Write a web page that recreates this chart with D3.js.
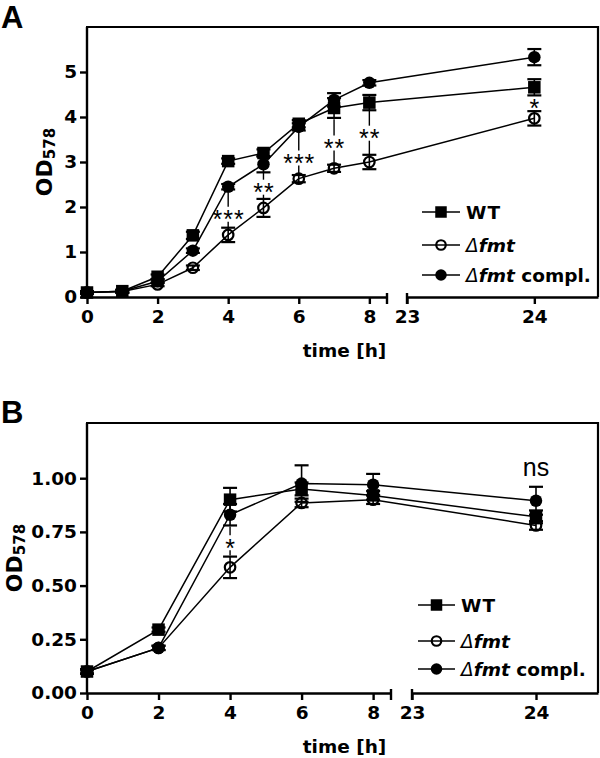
<!DOCTYPE html>
<html>
<head>
<meta charset="utf-8">
<script src="https://cdn.jsdelivr.net/npm/d3@7/dist/d3.min.js"></script>
<style>
  html, body { margin: 0; padding: 0; background: #fff; }
  svg { display: block; }
</style>
</head>
<body>
<svg id="chart" width="600" height="758"></svg>
<script>
// ---------------- Data ----------------
// Panel A
const timesA = [0, 1, 2, 3, 4, 5, 6, 7, 8, 24];
const wtA      = [0.10, 0.13, 0.45, 1.37, 3.02, 3.20, 3.85, 4.20, 4.32, 4.66];
const wtErrA   = [0.03, 0.03, 0.05, 0.08, 0.06, 0.08, 0.08, 0.22, 0.17, 0.18];
const fmtA     = [0.10, 0.12, 0.28, 0.65, 1.38, 1.98, 2.63, 2.86, 3.00, 3.97];
const fmtErrA  = [0.02, 0.03, 0.04, 0.05, 0.16, 0.20, 0.08, 0.08, 0.16, 0.16];
const complA   = [0.10, 0.13, 0.35, 1.03, 2.45, 2.95, 3.78, 4.38, 4.76, 5.33];
const complErrA= [0.02, 0.03, 0.04, 0.05, 0.06, 0.18, 0.08, 0.15, 0.06, 0.18];
const yTicksA  = [0, 1, 2, 3, 4, 5];
const sigXA     = [4, 5, 6, 7, 8, 24];
const sigTopA   = [2.31, 2.77, 3.72, 3.95, 4.15, 4.48];
const sigBotA   = [1.54, 2.18, 2.72, 3.00, 3.16, 4.13];
const sigLabYA  = [1.84, 2.44, 3.09, 3.42, 3.64, 4.31];
const sigLabA   = ["***", "**", "***", "**", "**", "*"];

// Panel B
const timesB = [0, 2, 4, 6, 8, 24];
const wtB      = [0.10, 0.295, 0.90, 0.95, 0.92, 0.82];
const wtErrB   = [0.01, 0.01, 0.055, 0.03, 0.02, 0.03];
const fmtB     = [0.10, 0.21, 0.585, 0.885, 0.90, 0.78];
const fmtErrB  = [0.01, 0.01, 0.05, 0.02, 0.02, 0.02];
const complB   = [0.10, 0.21, 0.83, 0.975, 0.97, 0.895];
const complErrB= [0.01, 0.01, 0.05, 0.085, 0.05, 0.065];
const yTicksB  = [0, 0.25, 0.5, 0.75, 1.0];
const sigXB     = [4, 24];
const sigTopB   = [0.775, null];
const sigBotB   = [0.64, null];
const sigLabYB  = [0.70, 1.04];
const sigLabB   = ["*", "ns"];

const xTicksLeft  = [0, 2, 4, 6, 8];
const xTicksRight = [23, 24];
const seriesNames = ["WT", "fmt", "compl"];

// ---------------- Drawing ----------------
const svg = d3.select("#chart");
const BOLD = "'DejaVu Sans', sans-serif";

function drawPanel(cfg) {
  const g = svg.append("g");
  const xl = d3.scaleLinear().domain([0, 8.5]).range([cfg.left, cfg.breakL]);
  const xr = d3.scaleLinear().domain([23, 24.5]).range([cfg.breakR, cfg.right]);
  const xp = t => (t <= 8.5 ? xl(t) : xr(t));
  const y = d3.scaleLinear().domain(cfg.yDomain).range([cfg.bottom, cfg.top]);

  // frame (top + right)
  g.append("path")
    .attr("d", `M${cfg.left - 1},${cfg.top}H${cfg.right}V${cfg.bottom}`)
    .attr("fill", "none").attr("stroke", "#000").attr("stroke-width", 2.2);

  // y axis
  const yAxis = d3.axisLeft(y).tickValues(cfg.yTicks).tickSize(7).tickSizeOuter(0)
    .tickFormat(cfg.yFormat).tickPadding(3);
  const ya = g.append("g").attr("transform", `translate(${cfg.left},0)`).call(yAxis);
  ya.select(".domain").attr("d", `M0,${cfg.bottom + 1}V${cfg.top}`);

  // x axes (two segments)
  const fmtX = d3.format("d");
  const xa1 = g.append("g").attr("transform", `translate(0,${cfg.bottom})`)
    .call(d3.axisBottom(xl).tickValues(xTicksLeft).tickFormat(fmtX).tickSize(7).tickSizeOuter(0).tickPadding(6));
  const xa2 = g.append("g").attr("transform", `translate(0,${cfg.bottom})`)
    .call(d3.axisBottom(xr).tickValues(xTicksRight).tickFormat(fmtX).tickSize(7).tickSizeOuter(0).tickPadding(6));
  [ya, xa1, xa2].forEach(a => {
    a.selectAll("path, line").attr("stroke", "#000").attr("stroke-width", 2.4);
    a.selectAll("text").attr("fill", "#000").style("font-family", BOLD)
      .style("font-weight", "bold").style("font-size", "18.5px");
  });
  // break end marks
  [cfg.breakL, cfg.breakR].forEach(bx => {
    g.append("line").attr("x1", bx).attr("x2", bx)
      .attr("y1", cfg.bottom - 4).attr("y2", cfg.bottom + 7)
      .attr("stroke", "#000").attr("stroke-width", 2.4);
  });

  // axis titles
  g.append("text").attr("x", (cfg.left + cfg.right) / 2 + 2).attr("y", cfg.bottom + 60)
    .attr("text-anchor", "middle").style("font-family", BOLD).style("font-weight", "bold")
    .style("font-size", "18.5px").text("time [h]");
  const yl = g.append("text")
    .attr("transform", `translate(${cfg.yLabelX},${(cfg.top + cfg.bottom) / 2}) rotate(-90)`)
    .attr("text-anchor", "middle").style("font-family", BOLD).style("font-weight", "bold")
    .style("font-size", "22px");
  yl.append("tspan").text("OD");
  yl.append("tspan").attr("dy", 3).style("font-size", "15px").text("578");

  // panel letter
  g.append("text").attr("x", 1).attr("y", cfg.letterY)
    .style("font-family", "'Liberation Sans', Arial, sans-serif").style("font-weight", "bold")
    .style("font-size", "31px").text(cfg.letter);

  const series = [
    { vals: cfg.wt, err: cfg.wtErr, shape: "square" },
    { vals: cfg.fmt, err: cfg.fmtErr, shape: "open" },
    { vals: cfg.compl, err: cfg.complErr, shape: "filled" }
  ];

  // lines
  const line = d3.line().x(d => xp(d[0])).y(d => y(d[1]));
  series.forEach(s => {
    const pts = cfg.times.map((t, i) => [t, s.vals[i]]);
    g.append("path").datum(pts).attr("d", line).attr("fill", "none")
      .attr("stroke", "#000").attr("stroke-width", 1.5);
  });

  // error bars
  series.forEach(s => {
    cfg.times.forEach((t, i) => {
      const cx = xp(t), lo = y(s.vals[i] - s.err[i]), hi = y(s.vals[i] + s.err[i]);
      g.append("line").attr("x1", cx).attr("x2", cx).attr("y1", lo).attr("y2", hi)
        .attr("stroke", "#000").attr("stroke-width", 1.6);
      [lo, hi].forEach(yy => g.append("line").attr("x1", cx - 7).attr("x2", cx + 7)
        .attr("y1", yy).attr("y2", yy).attr("stroke", "#000").attr("stroke-width", 2.2));
    });
  });

  // markers
  function marker(sel, shape, cx, cy, sz) {
    if (shape === "square") {
      sel.append("rect").attr("x", cx - sz / 2).attr("y", cy - sz / 2)
        .attr("width", sz).attr("height", sz).attr("fill", "#000");
    } else if (shape === "open") {
      sel.append("circle").attr("cx", cx).attr("cy", cy).attr("r", sz / 2 - 1)
        .attr("fill", "none").attr("stroke", "#000").attr("stroke-width", 2.2);
    } else {
      sel.append("circle").attr("cx", cx).attr("cy", cy).attr("r", sz / 2)
        .attr("fill", "#000");
    }
  }
  series.forEach(s => {
    cfg.times.forEach((t, i) => marker(g, s.shape, xp(t), y(s.vals[i]), 12.5));
  });

  // significance annotations
  cfg.sigX.forEach((t, i) => {
    const cx = xp(t);
    const lab = cfg.sigLab[i];
    const isStar = lab.indexOf("*") >= 0;
    const ly = y(cfg.sigLabY[i]);
    if (cfg.sigTop[i] != null) {
      const gap = 7.5;
      const top = y(cfg.sigTop[i]), bot = y(cfg.sigBot[i]);
      if (ly - gap > top) g.append("line").attr("x1", cx).attr("x2", cx)
        .attr("y1", top).attr("y2", ly - gap).attr("stroke", "#000").attr("stroke-width", 1.4);
      if (ly + gap < bot) g.append("line").attr("x1", cx).attr("x2", cx)
        .attr("y1", ly + gap).attr("y2", bot).attr("stroke", "#000").attr("stroke-width", 1.4);
    }
    const fs = isStar ? 25 : 25;
    g.append("text").attr("x", cx + (isStar ? 0.5 : 0))
      .attr("y", isStar ? ly + 0.57 * fs : ly + 0.27 * fs)
      .attr("text-anchor", "middle")
      .style("font-family", "'Liberation Sans', Arial, sans-serif")
      .style("font-size", fs + "px")
      .style("letter-spacing", isStar ? "1px" : "0px")
      .text(lab);
  });

  // legend
  const shapes = ["square", "open", "filled"];
  shapes.forEach((sh, i) => {
    const ry = cfg.legendY[i];
    g.append("line").attr("x1", cfg.legX0).attr("x2", cfg.legX1).attr("y1", ry).attr("y2", ry)
      .attr("stroke", "#000").attr("stroke-width", 1.5);
    marker(g, sh, (cfg.legX0 + cfg.legX1) / 2, ry, 11.5);
    const tx = g.append("text").attr("x", cfg.legX1 + 6).attr("y", ry + 6.5)
      .style("font-family", BOLD).style("font-size", "18.5px");
    if (seriesNames[i] === "WT") {
      tx.append("tspan").style("font-weight", "bold").style("letter-spacing", "1px").text("WT");
    } else {
      tx.append("tspan").style("font-style", "italic").style("font-weight", "normal").text("\u0394");
      tx.append("tspan").style("font-style", "italic").style("font-weight", "bold").text("fmt");
      if (seriesNames[i] === "compl")
        tx.append("tspan").style("font-weight", "bold").text(" compl.");
    }
  });
}

drawPanel({
  letter: "A", letterY: 28, yLabelX: 52,
  left: 87, breakL: 387, breakR: 407, right: 598, top: 27, bottom: 297,
  yDomain: [0, 6], yTicks: yTicksA, yFormat: d3.format("d"),
  times: timesA, wt: wtA, wtErr: wtErrA, fmt: fmtA, fmtErr: fmtErrA, compl: complA, complErr: complErrA,
  sigX: sigXA, sigTop: sigTopA, sigBot: sigBotA, sigLabY: sigLabYA, sigLab: sigLabA,
  legX0: 422, legX1: 460, legendY: [212, 245, 275]
});

drawPanel({
  letter: "B", letterY: 423, yLabelX: 22,
  left: 87, breakL: 391, breakR: 412, right: 598, top: 423, bottom: 693,
  yDomain: [0, 1.257], yTicks: yTicksB, yFormat: d3.format(".2f"),
  times: timesB, wt: wtB, wtErr: wtErrB, fmt: fmtB, fmtErr: fmtErrB, compl: complB, complErr: complErrB,
  sigX: sigXB, sigTop: sigTopB, sigBot: sigBotB, sigLabY: sigLabYB, sigLab: sigLabB,
  legX0: 418, legX1: 455, legendY: [605, 641, 669]
});
</script>
</body>
</html>
